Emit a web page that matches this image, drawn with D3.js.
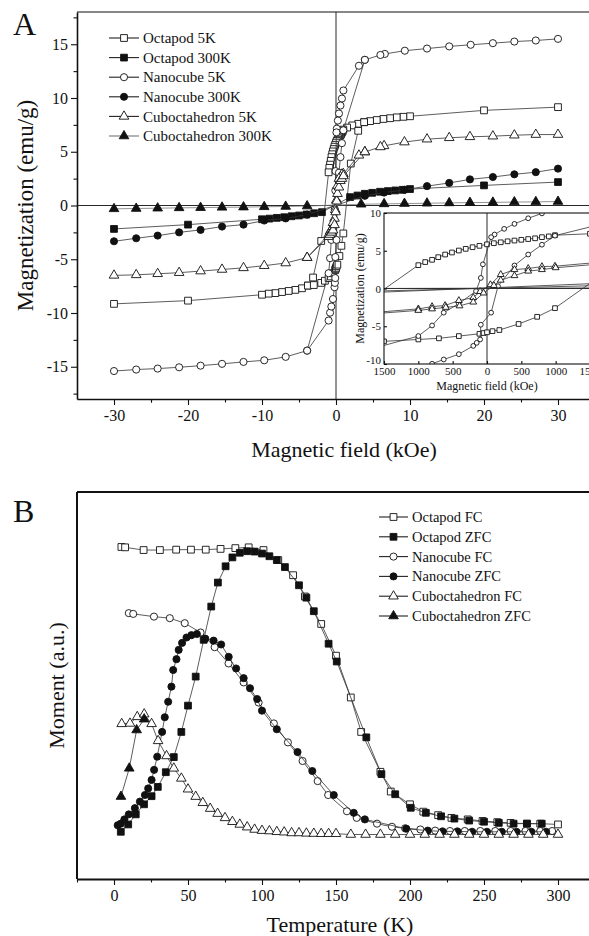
<!DOCTYPE html>
<html>
<head>
<meta charset="utf-8">
<script src="https://cdn.jsdelivr.net/npm/d3@7"></script>
<style>
  body { margin: 0; background: #fff; }
  svg { display: block; font-family: 'Liberation Serif', 'Times New Roman', serif; }
</style>
</head>
<body>
<svg id="chart" width="589" height="936"></svg>
<script>
// ---------- Panel A : M(H) loops, [field kOe, magnetization emu/g] ----------
// descending branch (+30 -> -30) and return branch (near zero, -H -> +H)
const octapod5K = [[30,9.15],[20,8.85],[10,8.3],[9.1,8.25],[8.2,8.2],[7.3,8.12],[6.4,8.05],[5.5,7.95],[4.6,7.85],[3.8,7.75],[3.0,7.6],[2.2,7.45],[1.5,7.25],
  [0.99,7.06],[0.9,6.9],[0.8,6.8],[0.7,6.65],[0.6,6.55],[0.5,6.45],[0.4,6.35],[0.3,6.25],[0.2,6.12],[0.1,6.0],[0,5.85],
  [-0.11,5.65],[-0.21,5.47],[-0.31,5.25],[-0.41,5.03],[-0.51,4.77],[-0.61,4.5],[-0.71,4.15],[-0.8,3.8],[-0.9,3.5],[-1.0,3.09],
  [-2.0,-3.3],[-3.1,-6.7],[-3.8,-7.45],[-4.6,-7.7],[-5.5,-7.85],[-6.4,-7.95],[-7.3,-8.05],[-8.2,-8.15],[-9.1,-8.2],[-10,-8.3],[-20,-8.85],[-30,-9.15]];
const octapod5KReturn = [[-3.8,-7.45],[-3.0,-7.4],[-2.0,-7.2],[-1.5,-7.0],[-1.0,-6.75],[-0.7,-6.6],[-0.41,-6.3],[-0.11,-6.0],[-0.05,-5.9],[0,-5.8],
  [0.08,-5.65],[0.18,-5.5],[0.46,-4.7],[0.73,-3.75],[0.99,-2.6],[2.0,3.9],[3.0,6.95],[3.8,7.75]];

const octapod300K = [[-30,-2.18],[-20,-1.78],[-10,-1.28],[-9,-1.22],[-8,-1.15],[-7,-1.09],[-6,-1.0],[-5,-0.93],[-4,-0.84],[-2.95,-0.72],[-1.9,-0.62],
  [1.9,0.78],[2.9,0.93],[3.9,1.09],[4.9,1.18],[5.95,1.28],[7,1.34],[8,1.4],[9,1.46],[10,1.53],[20,1.87],[30,2.18]];

const nanocube5K = [[30,15.5],[27,15.35],[24.1,15.25],[21.2,15.1],[18.2,14.95],[15.3,14.8],[12.3,14.6],[9.3,14.4],[6.6,14.1],[6.0,14.0],[3.9,13.55],[3.1,13.0],
  [1.0,10.7],[0.8,9.95],[0.6,9.3],[0.4,8.56],[0.25,7.9],[0.11,7.15],[0.06,6.8],
  [-0.06,3.2],[-0.09,1.4],[-0.16,-0.35],[-0.41,-2.0],[-0.63,-3.2],[-0.8,-4.9],[-1.0,-6.3],
  [-3.9,-13.5],[-6.8,-14.08],[-9.7,-14.4],[-12.5,-14.55],[-15.4,-14.73],[-18.3,-14.9],[-21.2,-15.05],[-24.1,-15.17],[-27,-15.26],[-30,-15.4]];
const nanocube5KReturn = [[-3.9,-13.5],[-1.0,-10.7],[-0.8,-9.97],[-0.63,-9.4],[-0.41,-8.7],[-0.2,-7.6],[-0.15,-7.2],[-0.1,-6.75],[-0.09,-4.8],
  [0.06,-3.2],[0.16,0.3],[0.4,3.05],[0.6,4.5],[0.8,5.8],[0.99,7.0],[3.9,13.55]];

const nanocube300K = [[-30,-3.33],[-27,-3.05],[-24.1,-2.8],[-21.2,-2.5],[-18.3,-2.27],[-15.4,-1.96],[-12.5,-1.78],[-9.7,-1.4],[-6.8,-1.2],[-3.9,-0.85],
  [3.9,0.9],[6.5,1.2],[9.25,1.46],[12.3,1.8],[15.3,2.1],[18.1,2.43],[21.2,2.65],[24.1,2.9],[27,3.1],[30,3.43]];

const cuboct5K = [[30,6.6],[27,6.6],[24.1,6.54],[21.2,6.45],[18.1,6.39],[15.3,6.3],[12.3,6.17],[9.25,5.9],[6.5,5.55],[6.0,5.45],[3.9,4.98],[3.1,4.67],
  [0.99,2.95],[0.8,2.9],[0.6,2.65],[0.4,2.5],[0.2,1.85],[0.05,0.5],
  [-0.1,-0.4],[-0.2,-1.2],[-0.41,-1.6],[-0.61,-2.25],[-0.8,-2.4],[-1.0,-2.7],
  [-3.9,-4.85],[-6.8,-5.35],[-9.7,-5.6],[-12.5,-5.8],[-15.4,-5.95],[-18.3,-6.1],[-21.2,-6.25],[-24.1,-6.35],[-27,-6.45],[-30,-6.5]];
const cuboct5KReturn = [[-3.9,-4.85],[-1.0,-2.9],[-0.8,-2.7],[-0.6,-2.5],[-0.4,-2.3],[-0.2,-1.8],[-0.05,-0.6],
  [0.1,0.4],[0.2,1.1],[0.4,1.7],[0.6,2.3],[0.8,2.5],[1.0,2.75],[3.9,4.98]];

const cuboct300K = [[-30,-0.31],[-27,-0.28],[-24.1,-0.25],[-21.2,-0.22],[-18.3,-0.2],[-15.4,-0.17],[-12.5,-0.15],[-9.7,-0.12],[-6.8,-0.09],[-3.9,-0.05],
  [3.4,0.12],[6.5,0.15],[9.25,0.18],[12.3,0.21],[15.3,0.24],[18.1,0.27],[21.2,0.29],[24.1,0.32],[27,0.34],[30,0.37]];

const namesA = ['Octapod 5K', 'Octapod 300K', 'Nanocube 5K', 'Nanocube 300K', 'Cuboctahedron 5K', 'Cuboctahedron 300K'];
const ticksAx = [-30, -20, -10, 0, 10, 20, 30];
const ticksAy = [-15, -10, -5, 0, 5, 10, 15];
const ticksInsetX = [-1500, -1000, -500, 0, 500, 1000, 1500];
const ticksInsetY = [-10, -5, 0, 5, 10];

// ---------- Panel B : M(T), [temperature K, moment a.u.] ----------
const octapodFC = [[5,85.8],[7.5,85.7],[20,85.0],[31,85.0],[42,85.1],[52,85.1],[62,85.1],[72,85.3],[82,85.5],[91,85.7],[101,85.0],[111,82.4],
  [121,78.5],[129,73.0],[140,65.9],[150,57.7],[160,46.9],[167,38.0],[180,27.7],[187,22.6],[200,19.3],[209,17.4],[219,16.5],[228,15.8],
  [239,15.4],[249,15.0],[259,14.7],[268,14.5],[279,14.3],[288,14.3],[300,14.1]];
const octapodZFC = [[4.6,12.2],[9.6,14.1],[14.7,16.7],[20.3,19.3],[25.4,21.4],[29.6,23.8],[35,27.6],[40.4,31.5],[45.5,38],[50,44.8],[55.2,52.3],
  [60.6,61.8],[65.7,70.4],[70.2,76.6],[75.4,80.8],[80,83.1],[85,84.3],[90,84.7],[95,84.6],[100,84.1],[105,83.4],[110,82.4],[115.5,80.6],
  [125,75.9],[130,72.7],[135,69.2],[145,60.8],[150.5,56.2],[170.5,36.6],[180.7,27.1],[190,21.9],[200.5,18.4],[210.7,17.1],[221,16.2],
  [230,15.6],[240,15.1],[250,14.8],[260,14.5],[270,14.3],[279,14.3],[289,14.3]];
const nanocubeFC = [[10,68.7],[13,68.5],[27,67.8],[37.7,67.4],[47.8,66.1],[58.5,63.7],[68,59.9],[77.4,55.7],[87.6,50.8],[97.7,45.6],[108,40.2],
  [117.5,35.3],[127.4,30.5],[137.6,25.3],[144.7,21.7],[157.4,17.5],[164,15.8],[177.7,14.3],[187.8,13.5],[196.7,13.1],[207,12.8],[217,12.5],
  [227,12.4],[237,12.4],[247.5,12.4],[257.6,12.4],[268,12.4],[278,12.4],[288,12.4],[296,12.4]];
const nanocubeZFC = [[2.5,13.9],[4.6,14.3],[7,15.4],[10,16.7],[14.1,18.3],[17.5,20],[20.9,21.7],[23.1,23.4],[25.4,25.6],[27.1,28.2],[29.2,31.6],
  [32.5,38],[34.3,41.8],[36.6,45.8],[38.8,49.7],[40,54],[42.2,56.8],[43.7,59.2],[46,61],[49,62.4],[52.3,63],[56,63.3],[61.7,62.1],[67.3,61.6],
  [72.4,60.6],[77.5,57.4],[82.5,54.4],[87.6,51.9],[91.9,49.3],[96.7,46.5],[100,43.5],[110,38.7],[124,32.8],[134,27.9],[148.5,21.7],[162,17.1],
  [169.5,15.4],[197.5,13.0],[212,12.5],[222,12.3],[232,12.3],[242,12.2],[252,12.2],[262,12.2],[272,12.2],[282,12.2],[292,12.2]];
const cuboctFC = [[5.2,40.1],[10.8,40.2],[15.7,41.9],[20.4,42.6],[25.4,40.1],[29.8,35.7],[35.5,31.8],[40.4,28.6],[45.5,26],[50,23.2],[55.2,21.3],
  [60,19.7],[65,18.2],[70,16.9],[75,15.8],[80,14.8],[85,14.1],[90,13.4],[95,12.8],[100,12.5],[105,12.4],[110,12.2],[115,12.1],[120,11.9],
  [125,11.9],[130,11.8],[135,11.75],[140,11.7],[145,11.7],[150,11.7],[160,11.5],[170,11.5],[180,11.5],[190,11.5],[200,11.5],[210,11.5],
  [220,11.5],[230,11.5],[240,11.5],[250,11.5],[260,11.5],[270,11.5],[280,11.5],[290,11.5],[300,11.5]];
const cuboctZFC = [[4.7,21.3],[10.3,28.6],[15.3,38.5],[20.4,41.3]];

const namesB = ['Octapod FC', 'Octapod ZFC', 'Nanocube FC', 'Nanocube ZFC', 'Cuboctahedron FC', 'Cuboctahedron ZFC'];
const ticksBx = [0, 50, 100, 150, 200, 250, 300];

// ------------------------------------------------------------
const svg = d3.select('#chart');
const INK = '#111';
const SERIF = "'Liberation Serif', 'Times New Roman', serif";
const shapes = { square: d3.symbolSquare, circle: d3.symbolCircle, triangle: d3.symbolTriangle };
const bigSize = { square: 46, circle: 40, triangle: 40 };
const smallSize = { square: 22, circle: 18, triangle: 20 };

const seriesA = [
  { name: namesA[0], pts: octapod5K, back: octapod5KReturn, shape: 'square', filled: false },
  { name: namesA[1], pts: octapod300K, shape: 'square', filled: true },
  { name: namesA[2], pts: nanocube5K, back: nanocube5KReturn, shape: 'circle', filled: false },
  { name: namesA[3], pts: nanocube300K, shape: 'circle', filled: true },
  { name: namesA[4], pts: cuboct5K, back: cuboct5KReturn, shape: 'triangle', filled: false },
  { name: namesA[5], pts: cuboct300K, shape: 'triangle', filled: true, line: '#777' },
];
const seriesB = [
  { name: namesB[0], pts: octapodFC, shape: 'square', filled: false },
  { name: namesB[1], pts: octapodZFC, shape: 'square', filled: true },
  { name: namesB[2], pts: nanocubeFC, shape: 'circle', filled: false },
  { name: namesB[3], pts: nanocubeZFC, shape: 'circle', filled: true },
  { name: namesB[4], pts: cuboctFC, shape: 'triangle', filled: false },
  { name: namesB[5], pts: cuboctZFC, shape: 'triangle', filled: true },
];

function drawSeries(g, s, xs, ys, size) {
  const line = d3.line().x(d => xs(d[0])).y(d => ys(d[1]));
  [s.pts, s.back].filter(Boolean).forEach(arr => {
    g.append('path').attr('d', line(arr)).attr('fill', 'none')
      .attr('stroke', s.line || '#333').attr('stroke-width', 0.8);
  });
  const all = s.back ? s.pts.concat(s.back) : s.pts;
  g.selectAll(null).data(all).join('path')
    .attr('transform', d => `translate(${xs(d[0])},${ys(d[1])})`)
    .attr('d', d3.symbol().type(shapes[s.shape]).size(size[s.shape]))
    .attr('fill', s.filled ? INK : '#fff')
    .attr('stroke', INK).attr('stroke-width', 0.9);
}

function legend(g, list, x0, y0, step, lineLen, fontSize) {
  list.forEach((s, i) => {
    const y = y0 + i * step;
    g.append('line').attr('x1', x0).attr('x2', x0 + lineLen).attr('y1', y).attr('y2', y)
      .attr('stroke', s.line || '#222').attr('stroke-width', 1.1);
    g.append('path').attr('transform', `translate(${x0 + lineLen / 2},${y})`)
      .attr('d', d3.symbol().type(shapes[s.shape]).size(bigSize[s.shape]))
      .attr('fill', s.filled ? INK : '#fff').attr('stroke', INK).attr('stroke-width', 0.9);
    g.append('text').attr('x', x0 + lineLen + 4).attr('y', y).attr('dy', '0.35em')
      .attr('font-size', fontSize).attr('fill', INK).text(s.name);
  });
}

function styleAxis(g, w) {
  g.attr('font-family', SERIF);
  g.select('.domain').attr('stroke', INK).attr('stroke-width', w);
  g.selectAll('.tick line').attr('stroke', INK).attr('stroke-width', 1.1);
  g.selectAll('.tick text').attr('fill', INK);
}

// ================= Panel A =================
const A = { left: 77, right: 595, top: 12, bottom: 399 };
const xA = d3.scaleLinear().domain([-35, 35]).range([A.left, A.right]);
const yA = d3.scaleLinear().domain([-18, 18]).range([A.bottom, A.top]);

svg.append('clipPath').attr('id', 'clipA').append('rect')
  .attr('x', A.left).attr('y', A.top).attr('width', A.right - A.left).attr('height', A.bottom - A.top);

const gA = svg.append('g');
// zero lines
gA.append('line').attr('x1', xA(0)).attr('x2', xA(0)).attr('y1', A.top).attr('y2', A.bottom).attr('stroke', INK).attr('stroke-width', 0.9);
gA.append('line').attr('x1', A.left).attr('x2', A.right).attr('y1', yA(0)).attr('y2', yA(0)).attr('stroke', INK).attr('stroke-width', 0.9);

const plotA = gA.append('g').attr('clip-path', 'url(#clipA)');
seriesA.forEach(s => drawSeries(plotA, s, xA, yA, bigSize));

// frame + axes
gA.append('line').attr('x1', A.left).attr('x2', A.right).attr('y1', A.top).attr('y2', A.top).attr('stroke', INK).attr('stroke-width', 1.2);
const axAx = gA.append('g').attr('transform', `translate(0,${A.bottom})`)
  .call(d3.axisBottom(xA).tickValues(ticksAx).tickSize(6).tickSizeOuter(0).tickPadding(5).tickFormat(d => String(d)))
  .attr('font-size', 16);
styleAxis(axAx, 1.6);
gA.append('g').attr('transform', `translate(0,${A.bottom})`)
  .call(d3.axisBottom(xA).tickValues(ticksAx.map(t => t + 5).concat([-25])).tickSize(3.5).tickSizeOuter(0).tickFormat(''))
  .call(g => { g.select('.domain').remove(); g.selectAll('line').attr('stroke', INK).attr('stroke-width', 1.1); });
const axAy = gA.append('g').attr('transform', `translate(${A.left},0)`)
  .call(d3.axisLeft(yA).tickValues(ticksAy).tickSize(6).tickSizeOuter(0).tickPadding(3).tickFormat(d => String(d)))
  .attr('font-size', 16);
styleAxis(axAy, 1.6);
gA.append('g').attr('transform', `translate(${A.left},0)`)
  .call(d3.axisLeft(yA).tickValues(ticksAy.map(t => t + 2.5).concat([-17.5])).tickSize(3.5).tickSizeOuter(0).tickFormat(''))
  .call(g => { g.select('.domain').remove(); g.selectAll('line').attr('stroke', INK).attr('stroke-width', 1.1); });

gA.append('text').attr('x', 344).attr('y', 457).attr('text-anchor', 'middle').attr('font-size', 22).attr('fill', INK)
  .text('Magnetic field (kOe)');
gA.append('text').attr('transform', `translate(33,${(A.top + A.bottom) / 2}) rotate(-90)`).attr('text-anchor', 'middle')
  .attr('font-size', 23).attr('fill', INK).text('Magnetization (emu/g)');
gA.append('text').attr('x', 13).attr('y', 35).attr('font-size', 32).attr('fill', INK).text('A');

legend(gA, seriesA, 109, 38, 19.6, 30, 15);

// ---------- inset ----------
const I = { left: 384, right: 590, top: 213, bottom: 364 };
const xI = d3.scaleLinear().domain([-1.5, 1.5]).range([I.left, I.right]);   // kOe internally
const yI = d3.scaleLinear().domain([-10, 10]).range([I.bottom, I.top]);
const gI = svg.append('g');
gI.append('rect').attr('x', I.left).attr('y', I.top).attr('width', I.right - I.left).attr('height', I.bottom - I.top)
  .attr('fill', '#fff');
svg.append('clipPath').attr('id', 'clipI').append('rect')
  .attr('x', I.left).attr('y', I.top).attr('width', I.right - I.left).attr('height', I.bottom - I.top);
gI.append('line').attr('x1', xI(0)).attr('x2', xI(0)).attr('y1', I.top).attr('y2', I.bottom).attr('stroke', INK).attr('stroke-width', 0.9);
gI.append('line').attr('x1', I.left).attr('x2', I.right).attr('y1', yI(0)).attr('y2', yI(0)).attr('stroke', INK).attr('stroke-width', 0.9);
const plotI = gI.append('g').attr('clip-path', 'url(#clipI)');
seriesA.forEach(s => drawSeries(plotI, Object.assign({}, s, { line: '#333' }), xI, yI, smallSize));
gI.append('rect').attr('x', I.left).attr('y', I.top).attr('width', I.right - I.left).attr('height', I.bottom - I.top)
  .attr('fill', 'none').attr('stroke', INK).attr('stroke-width', 1.1);

const xIoe = d3.scaleLinear().domain([-1500, 1500]).range([I.left, I.right]);
const axIx = gI.append('g').attr('transform', `translate(0,${I.bottom})`)
  .call(d3.axisBottom(xIoe).tickValues(ticksInsetX).tickSizeInner(-3).tickSizeOuter(0).tickPadding(3).tickFormat(d => String(Math.abs(d))))
  .attr('font-size', 11);
styleAxis(axIx, 0);
const axIy = gI.append('g').attr('transform', `translate(${I.left},0)`)
  .call(d3.axisLeft(yI).tickValues(ticksInsetY).tickSizeInner(-3).tickSizeOuter(0).tickPadding(3).tickFormat(d => String(d)))
  .attr('font-size', 11);
styleAxis(axIy, 0);
// nudge the two corner labels apart as in the original
axIy.selectAll('.tick text').filter(d => d === -10).attr('dy', '-0.05em');
gI.append('text').attr('x', xIoe(0)).attr('y', 390).attr('text-anchor', 'middle').attr('font-size', 12).attr('fill', INK)
  .text('Magnetic field (kOe)');
gI.append('text').attr('transform', `translate(364,${(I.top + I.bottom) / 2}) rotate(-90)`).attr('text-anchor', 'middle')
  .attr('font-size', 12).attr('fill', INK).text('Magnetization (emu/g)');

// ================= Panel B =================
const B = { left: 77, right: 595, top: 492, bottom: 879 };
const xB = d3.scaleLinear().domain([-25, 325]).range([B.left, B.right]);
const yB = d3.scaleLinear().domain([0, 100]).range([B.bottom, B.top]);
const gB = svg.append('g');
const plotB = gB.append('g');
seriesB.forEach(s => drawSeries(plotB, s, xB, yB, bigSize));

gB.append('line').attr('x1', B.left).attr('x2', B.right).attr('y1', B.top).attr('y2', B.top).attr('stroke', INK).attr('stroke-width', 2);
gB.append('line').attr('x1', B.left).attr('x2', B.left).attr('y1', B.top).attr('y2', B.bottom).attr('stroke', INK).attr('stroke-width', 2);
const axBx = gB.append('g').attr('transform', `translate(0,${B.bottom})`)
  .call(d3.axisBottom(xB).tickValues(ticksBx).tickSize(6).tickSizeOuter(0).tickPadding(5).tickFormat(d => String(d)))
  .attr('font-size', 16);
styleAxis(axBx, 2);
gB.append('g').attr('transform', `translate(0,${B.bottom})`)
  .call(d3.axisBottom(xB).tickValues(ticksBx.map(t => t + 25).concat([-25])).tickSize(3.5).tickSizeOuter(0).tickFormat(''))
  .call(g => { g.select('.domain').remove(); g.selectAll('line').attr('stroke', INK).attr('stroke-width', 1.1); });

gB.append('text').attr('x', 340).attr('y', 932).attr('text-anchor', 'middle').attr('font-size', 22).attr('fill', INK)
  .text('Temperature (K)');
gB.append('text').attr('transform', `translate(64,${(B.top + B.bottom) / 2}) rotate(-90)`).attr('text-anchor', 'middle')
  .attr('font-size', 22).attr('fill', INK).text('Moment (a.u.)');
gB.append('text').attr('x', 13).attr('y', 522).attr('font-size', 32).attr('fill', INK).text('B');

legend(gB, seriesB, 379, 517, 19.8, 29, 14.5);
</script>
</body>
</html>
